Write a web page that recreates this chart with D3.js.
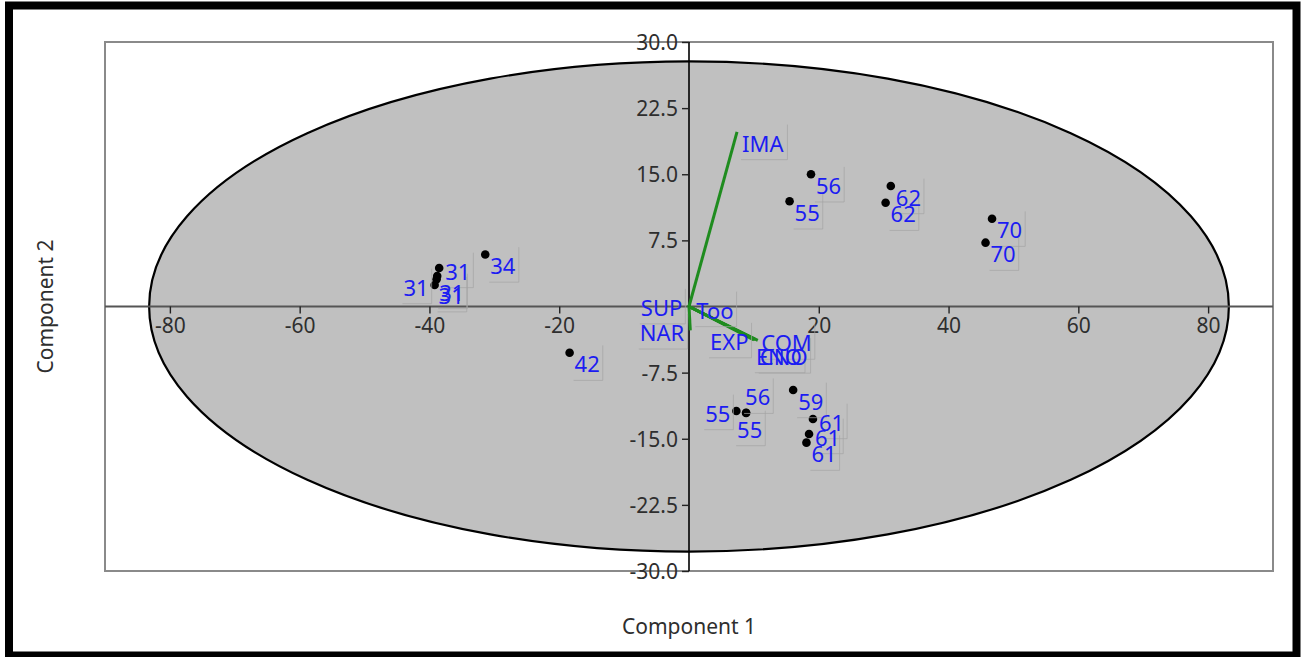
<!DOCTYPE html>
<html>
<head>
<meta charset="utf-8">
<script src="https://cdn.jsdelivr.net/npm/d3@7"></script>
<style>
  body { margin: 0; background: white; }
  svg { display: block; font-family: "Noto Sans", "Open Sans", sans-serif; }
</style>
</head>
<body>
<div id="chart"></div>
<script>
// observations (scores)
const obsLabels = ["31", "31", "31", "31", "34", "42", "55", "56", "62", "62", "70", "70", "55", "56", "55", "59", "61", "61", "61"];
const obsX = [-38.5, -38.8, -38.9, -39.2, -31.4, -18.4, 15.5, 18.8, 31.1, 30.3, 46.7, 45.7, 7.3, 8.8, 8.8, 16.05, 19.1, 18.5, 18.1];
const obsY = [4.37, 3.46, 3.1, 2.44, 5.9, -5.24, 11.93, 15.0, 13.67, 11.77, 9.96, 7.24, -11.85, -12.05, -12.08, -9.47, -12.76, -14.46, -15.44];
// where each label sits relative to its point
const obsLabelSide = ["e", "s", "s", "w", "se", "se", "se", "se", "se", "se", "se", "se", "w", "n", "sw", "se", "e", "e", "se"];

// variable loadings (biplot vectors)
const varLabels = ["IMA", "SUP", "Too", "NAR", "EXP", "COM", "ENO", "CNO"];
const varX = [7.4, -0.1, 0.2, 0.2, 10.1, 10.2, 10.0, 10.6];
const varY = [19.8, 0.15, -0.05, -2.7, -3.7, -3.75, -3.8, -3.85];
const varLabelSide = ["se", "w", "e", "w", "w", "e", "s", "s"];

// axes
const xTicks = [-80, -60, -40, -20, 20, 40, 60, 80];
const yTicks = [30, 22.5, 15, 7.5, -7.5, -15, -22.5, -30];
const xDomain = [-90, 90];
const yDomain = [-30, 30];
const ellipseRx = 83.2, ellipseRy = 27.8;

const W = 1301, H = 657;
const margin = {top: 42, right: 28, bottom: 86, left: 105};
const width = W - margin.left - margin.right;
const height = H - margin.top - margin.bottom;

const svg = d3.select("#chart").append("svg").attr("width", W).attr("height", H);

svg.append("rect").attr("width", W).attr("height", H).attr("fill", "white");

// outer black frame
svg.append("rect")
  .attr("x", 9).attr("y", 5.5)
  .attr("width", 1287.5).attr("height", 650)
  .attr("fill", "none")
  .attr("stroke", "black")
  .attr("stroke-width", 8);

const g = svg.append("g").attr("transform", "translate(" + margin.left + "," + margin.top + ")");

const x = d3.scaleLinear().domain(xDomain).range([0, width]);
const y = d3.scaleLinear().domain(yDomain).range([height, 0]);

const textCol = "#2e2e2e";
const labelCol = "#1c1cf2";
const hyphen = f => d => f(d).replace("\u2212", "-");

// plot frame
g.append("rect")
  .attr("width", width).attr("height", height)
  .attr("fill", "white")
  .attr("stroke", "#8a8a8a")
  .attr("stroke-width", 2);

// confidence ellipse
g.append("ellipse")
  .attr("cx", x(0)).attr("cy", y(0))
  .attr("rx", x(ellipseRx) - x(0))
  .attr("ry", y(0) - y(ellipseRy))
  .attr("fill", "#c0c0c0")
  .attr("stroke", "black")
  .attr("stroke-width", 2.2);

// x axis through origin
const xAxis = g.append("g")
  .attr("transform", "translate(0," + y(0) + ")")
  .call(d3.axisBottom(x).tickValues(xTicks).tickSize(7).tickPadding(5).tickFormat(hyphen(d3.format("d"))));
xAxis.select(".domain").remove();
xAxis.insert("line", ":first-child")
  .attr("x1", 0).attr("x2", width)
  .attr("stroke", "#555").attr("stroke-width", 2);

// y axis through origin
const yAxis = g.append("g")
  .attr("transform", "translate(" + x(0) + ",0)")
  .call(d3.axisLeft(y).tickValues(yTicks).tickSize(7).tickPadding(4).tickFormat(hyphen(d3.format(".1f"))));
yAxis.select(".domain").remove();
yAxis.insert("line", ":first-child")
  .attr("y1", 0).attr("y2", height)
  .attr("stroke", "black").attr("stroke-width", 1.6);

[xAxis, yAxis].forEach(a => {
  a.selectAll(".tick line").attr("stroke", "#222").attr("stroke-width", 1.4);
  a.selectAll(".tick text")
    .attr("fill", textCol)
    .attr("font-size", 21)
    .attr("font-family", "Noto Sans, Open Sans, sans-serif");
});
yAxis.selectAll(".tick text").attr("dy", "0.36em");

// axis titles
svg.append("text")
  .attr("x", margin.left + x(0)).attr("y", 634)
  .attr("text-anchor", "middle")
  .attr("font-size", 21)
  .attr("fill", textCol)
  .text("Component 1");

svg.append("text")
  .attr("transform", "translate(53," + (margin.top + y(0)) + ") rotate(-90)")
  .attr("text-anchor", "middle")
  .attr("font-size", 21)
  .attr("fill", textCol)
  .text("Component 2");

// label offsets by side: dx, dy (to text centre), anchor
const sides = {
  e:  [6, 4, "start"],
  se: [5, 12, "start"],
  w:  [-6, 3, "end"],
  n:  [-1, -15, "start"],
  s:  [2, 17, "start"],
  sw: [-9, 17, "start"]
};

function addLabel(layer, px, py, txt, side) {
  const s = sides[side];
  const t = layer.append("text")
    .attr("x", px + s[0])
    .attr("y", py + s[1])
    .attr("dy", "0.35em")
    .attr("text-anchor", s[2])
    .attr("font-size", 22)
    .attr("fill", labelCol)
    .text(txt);
  const b = t.node().getBBox();
  // faint label box edges (right and bottom)
  layer.insert("path", "text")
    .attr("d", "M" + (b.x + b.width + 3) + "," + (b.y - 3) + "V" + (b.y + b.height + 2) + "H" + (b.x - 1))
    .attr("fill", "none")
    .attr("stroke", "#a4a4a4")
    .attr("stroke-opacity", 0.7)
    .attr("stroke-width", 1);
}

// loading vectors
const vecs = g.append("g");
varLabels.forEach((d, i) => {
  vecs.append("line")
    .attr("x1", x(0)).attr("y1", y(0))
    .attr("x2", x(varX[i])).attr("y2", y(varY[i]))
    .attr("stroke", "#1f8c1f")
    .attr("stroke-width", 3);
});

// points
const pts = g.append("g");
obsLabels.forEach((d, i) => {
  pts.append("circle")
    .attr("cx", x(obsX[i])).attr("cy", y(obsY[i]))
    .attr("r", 4.3)
    .attr("fill", "black");
});

const labs = g.append("g");
varLabels.forEach((d, i) => addLabel(labs, x(varX[i]), y(varY[i]), d, varLabelSide[i]));
obsLabels.forEach((d, i) => addLabel(labs, x(obsX[i]), y(obsY[i]), d, obsLabelSide[i]));
</script>
</body>
</html>
